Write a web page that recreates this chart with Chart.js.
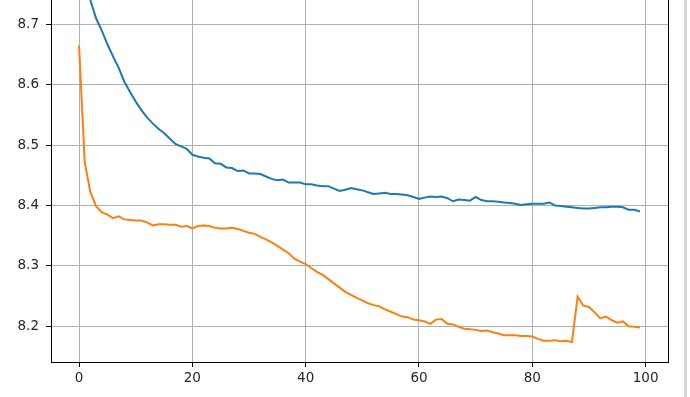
<!DOCTYPE html>
<html>
<head>
<meta charset="utf-8">
<script src="https://cdn.jsdelivr.net/npm/chart.js@4"></script>
<style>
  body { margin: 0; background: #fff; }
  canvas { display: block; }
</style>
</head>
<body>
<canvas id="lossChart" width="690" height="397"></canvas>
<script>
// Two loss curves over 100 epochs
var epochs = Array.from({length: 100}, function (_, i) { return i; });

var blueLoss = [8.817, 8.775, 8.740, 8.710, 8.690, 8.667, 8.647, 8.628, 8.605, 8.588,
  8.572, 8.558, 8.546, 8.536, 8.527, 8.520, 8.511, 8.502, 8.498, 8.494,
  8.484, 8.481, 8.479, 8.478, 8.470, 8.469, 8.463, 8.462, 8.457, 8.458,
  8.453, 8.453, 8.452, 8.448, 8.444, 8.442, 8.443, 8.438, 8.438, 8.438,
  8.435, 8.435, 8.433, 8.432, 8.432, 8.428, 8.424, 8.426, 8.429, 8.427,
  8.425, 8.422, 8.419, 8.420, 8.421, 8.419, 8.419, 8.418, 8.417, 8.414,
  8.411, 8.413, 8.415, 8.414, 8.415, 8.412, 8.407, 8.410, 8.409, 8.408,
  8.414, 8.409, 8.407, 8.407, 8.406, 8.405, 8.404, 8.403, 8.401, 8.402,
  8.403, 8.403, 8.403, 8.405, 8.400, 8.399, 8.398, 8.397, 8.396, 8.395,
  8.395, 8.396, 8.397, 8.397, 8.398, 8.398, 8.397, 8.393, 8.393, 8.390];

var orangeLoss = [8.665, 8.472, 8.422, 8.399, 8.389, 8.385, 8.379, 8.382, 8.377, 8.376,
  8.375, 8.375, 8.372, 8.367, 8.369, 8.369, 8.368, 8.368, 8.365, 8.366,
  8.362, 8.366, 8.367, 8.366, 8.363, 8.362, 8.362, 8.363, 8.361, 8.358,
  8.355, 8.353, 8.348, 8.344, 8.339, 8.333, 8.327, 8.321, 8.312, 8.307,
  8.303, 8.296, 8.290, 8.285, 8.278, 8.271, 8.264, 8.257, 8.252, 8.247,
  8.243, 8.238, 8.235, 8.233, 8.228, 8.224, 8.220, 8.216, 8.215, 8.211,
  8.210, 8.208, 8.204, 8.211, 8.212, 8.204, 8.203, 8.199, 8.196, 8.195,
  8.194, 8.192, 8.193, 8.190, 8.188, 8.185, 8.185, 8.185, 8.184, 8.184,
  8.183, 8.179, 8.176, 8.176, 8.177, 8.175, 8.176, 8.174, 8.249, 8.234,
  8.232, 8.223, 8.213, 8.216, 8.210, 8.206, 8.208, 8.200, 8.199, 8.198];

var xTicks = [0, 20, 40, 60, 80, 100];
var yTicks = [8.2, 8.3, 8.4, 8.5, 8.6, 8.7];

function toPoints(values) {
  return values.map(function (v, i) { return {x: epochs[i], y: v}; });
}

// right spine + the grey strip at the window edge
var frame = {
  id: 'frame',
  afterDraw: function (chart) {
    var ctx = chart.ctx, a = chart.chartArea;
    ctx.save();
    ctx.strokeStyle = '#000';
    ctx.lineWidth = 1;
    ctx.beginPath();
    ctx.moveTo(Math.round(a.right) + 0.5, a.top);
    ctx.lineTo(Math.round(a.right) + 0.5, a.bottom + 0.5);
    ctx.stroke();
    ctx.fillStyle = '#d6d6d6';
    ctx.fillRect(684, 0, 3, chart.height);
    ctx.restore();
  }
};

var font = {family: 'DejaVu Sans', size: 13.5};

new Chart(document.getElementById('lossChart'), {
  type: 'line',
  data: {
    datasets: [
      {data: toPoints(blueLoss), borderColor: '#1f77b4', borderWidth: 2, pointRadius: 0, tension: 0},
      {data: toPoints(orangeLoss), borderColor: '#ff7f0e', borderWidth: 2, pointRadius: 0, tension: 0}
    ]
  },
  options: {
    responsive: false,
    animation: false,
    layout: {padding: {left: 0, right: 22, top: 0, bottom: 0}},
    plugins: {legend: {display: false}, tooltip: {enabled: false}},
    scales: {
      x: {
        type: 'linear',
        min: -4.95,
        max: 103.95,
        afterBuildTicks: function (s) { s.ticks = xTicks.map(function (v) { return {value: v}; }); },
        afterFit: function (s) { s.height = 35; s.paddingLeft = 0; s.paddingRight = 0; },
        ticks: {color: '#262626', font: font, padding: 3, maxRotation: 0},
        grid: {color: '#b0b0b0', lineWidth: 1, tickColor: '#000', tickLength: 5},
        border: {color: '#000', width: 1}
      },
      y: {
        type: 'linear',
        min: 8.1408,
        max: 8.7403,
        afterBuildTicks: function (s) { s.ticks = yTicks.map(function (v) { return {value: v}; }); },
        afterFit: function (s) { s.width = 51; s.paddingTop = 0; s.paddingBottom = 0; },
        ticks: {color: '#262626', font: font, padding: 7, callback: function (v) { return v.toFixed(1); }},
        grid: {color: '#b0b0b0', lineWidth: 1, tickColor: '#000', tickLength: 5},
        border: {color: '#000', width: 1}
      }
    }
  },
  plugins: [frame]
});
</script>
</body>
</html>
